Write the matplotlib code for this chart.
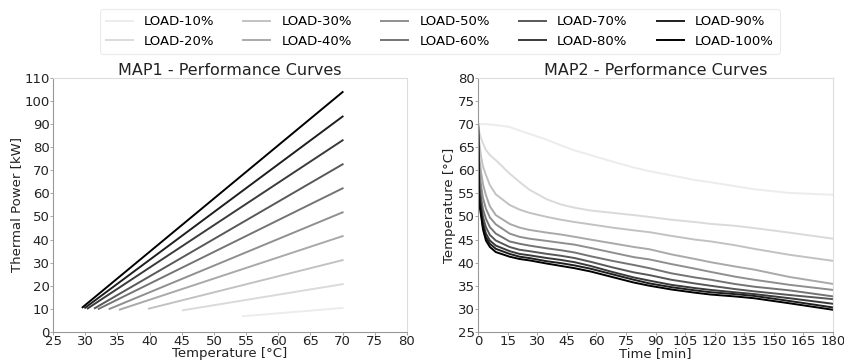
import matplotlib
matplotlib.use("Agg")
import matplotlib.pyplot as plt

loads = ["LOAD-10%", "LOAD-20%", "LOAD-30%", "LOAD-40%", "LOAD-50%",
         "LOAD-60%", "LOAD-70%", "LOAD-80%", "LOAD-90%", "LOAD-100%"]
colors = ["#ececec", "#dadada", "#c2c2c2", "#a9a9a9", "#8f8f8f",
          "#747474", "#585858", "#3a3a3a", "#1e1e1e", "#000000"]

# MAP1: start/end points of each performance line
map1_t_start = [54.5, 45.2, 39.9, 35.4, 33.8, 32.1, 31.5, 30.4, 30.0, 29.6]
map1_p_start = [6.8, 9.4, 10.1, 9.7, 10.0, 10.0, 10.3, 10.2, 10.5, 10.7]
map1_t_end = [70, 70, 70, 70, 70, 70, 70, 70, 70, 70]
map1_p_end = [10.4, 20.7, 31.1, 41.5, 51.8, 62.2, 72.6, 83.0, 93.3, 103.9]

# MAP2: temperature vs time
time_min = [0, 0.5, 1.5, 2.5, 4, 6, 9, 16, 21, 26, 35, 42, 49, 57, 68, 79, 87, 98, 110, 118, 130, 140, 158, 180]
temp_load10 = [70, 70, 70, 70, 70, 69.9, 69.8, 69.4, 68.6, 67.9, 66.6, 65.4, 64.3, 63.3, 61.9, 60.6, 59.8, 58.9, 57.9, 57.4, 56.6, 55.9, 55.1, 54.7]
temp_load20 = [70, 68.5, 67.0, 65.8, 64.4, 63.3, 62.2, 59.3, 57.5, 55.8, 53.7, 52.6, 51.9, 51.3, 50.8, 50.3, 49.9, 49.3, 48.8, 48.4, 48.0, 47.5, 46.5, 45.2]
temp_load30 = [70, 66.5, 63.0, 60.8, 59.0, 56.8, 54.8, 52.5, 51.5, 50.8, 49.9, 49.3, 48.8, 48.3, 47.6, 47.0, 46.6, 45.8, 45.0, 44.6, 43.8, 43.0, 41.7, 40.4]
temp_load40 = [70, 63.0, 59.7, 57.0, 54.6, 52.2, 50.3, 48.4, 47.6, 47.1, 46.5, 46.1, 45.6, 45.0, 44.2, 43.4, 42.9, 41.8, 40.8, 40.1, 39.2, 38.5, 36.9, 35.4]
temp_load50 = [70, 61.0, 56.8, 54.0, 51.7, 49.8, 48.3, 46.3, 45.6, 45.2, 44.7, 44.3, 43.9, 43.2, 42.2, 41.2, 40.7, 39.7, 38.7, 38.0, 37.0, 36.3, 35.2, 34.1]
temp_load60 = [70, 59.0, 54.3, 51.6, 49.5, 47.7, 46.3, 44.6, 44.1, 43.7, 43.1, 42.7, 42.2, 41.4, 40.4, 39.5, 38.8, 37.7, 36.8, 36.3, 35.4, 34.8, 34.0, 32.7]
temp_load70 = [70, 57.5, 52.8, 49.9, 47.7, 46.0, 44.8, 43.4, 42.8, 42.5, 41.9, 41.5, 41.0, 40.2, 39.0, 37.9, 37.3, 36.3, 35.5, 35.0, 34.3, 33.8, 33.0, 32.1]
temp_load80 = [70, 56.0, 51.7, 48.7, 46.3, 44.8, 43.7, 42.5, 41.9, 41.6, 41.0, 40.6, 40.1, 39.3, 38.0, 36.8, 36.1, 35.2, 34.5, 34.1, 33.6, 33.2, 32.3, 31.1]
temp_load90 = [70, 55.0, 51.0, 47.9, 45.5, 44.1, 43.0, 41.9, 41.3, 41.0, 40.3, 39.9, 39.4, 38.7, 37.5, 36.3, 35.5, 34.7, 34.0, 33.6, 33.2, 32.8, 31.7, 30.3]
temp_load100 = [70, 53.0, 50.3, 47.2, 44.8, 43.4, 42.3, 41.3, 40.8, 40.5, 39.8, 39.3, 38.8, 38.1, 36.9, 35.7, 35.0, 34.2, 33.5, 33.1, 32.7, 32.3, 31.2, 29.8]
map2_temps = [temp_load10, temp_load20, temp_load30, temp_load40, temp_load50,
              temp_load60, temp_load70, temp_load80, temp_load90, temp_load100]

map1_xticks = list(range(25, 81, 5))
map1_yticks = list(range(0, 111, 10))
map2_xticks = list(range(0, 181, 15))
map2_yticks = list(range(25, 81, 5))

plt.rcParams['font.family'] = ['DejaVu Sans']

fig = plt.figure(figsize=(8.44, 3.62), dpi=100)
ax1 = fig.add_axes([0.0628, 0.083, 0.4194, 0.7017])
ax2 = fig.add_axes([0.5664, 0.083, 0.4206, 0.7017])

handles = []
for i in range(len(loads)):
    h, = ax1.plot([map1_t_start[i], map1_t_end[i]], [map1_p_start[i], map1_p_end[i]],
                  color=colors[i], lw=1.4, label=loads[i])
    handles.append(h)
    ax2.plot(time_min, map2_temps[i], color=colors[i], lw=1.4)

def style(ax):
    for s in ax.spines.values():
        s.set_color("#dddddd")
        s.set_linewidth(0.8)
    ax.spines['left'].set_color("#999999")
    ax.spines['bottom'].set_color("#999999")
    ax.tick_params(axis='both', labelsize=9.5, length=2, width=0.6,
                   pad=0.5, colors="#999999", labelcolor="#222222")

ax1.set_xlim(25, 80)
ax1.set_ylim(0, 110)
ax1.set_xticks(map1_xticks)
ax1.set_yticks(map1_yticks)
ax1.set_title("MAP1 - Performance Curves", fontsize=11.5, pad=1, color="#222222")
ax1.set_xlabel("Temperature [°C]", fontsize=9.5, labelpad=-1, color="#222222")
ax1.set_ylabel("Thermal Power [kW]", fontsize=9.5, labelpad=1, color="#222222")
style(ax1)

ax2.set_xlim(0, 180)
ax2.set_ylim(25, 80)
ax2.set_xticks(map2_xticks)
ax2.set_yticks(map2_yticks)
ax2.set_title("MAP2 - Performance Curves", fontsize=11.5, pad=1, color="#222222")
ax2.set_xlabel("Time [min]", fontsize=9.5, labelpad=-1, color="#222222")
ax2.set_ylabel("Temperature [°C]", fontsize=9.5, labelpad=1, color="#222222")
style(ax2)

leg = fig.legend(handles=handles, labels=loads, ncol=5, loc="upper center",
                 bbox_to_anchor=(0.521, 0.992), fontsize=9.5, frameon=True,
                 handlelength=2.05, columnspacing=2.2, handletextpad=0.85,
                 borderpad=0.45, labelspacing=0.5)
leg.get_frame().set_edgecolor("#e6e6e6")
leg.get_frame().set_linewidth(0.8)

fig.savefig("out.png", dpi=100)
